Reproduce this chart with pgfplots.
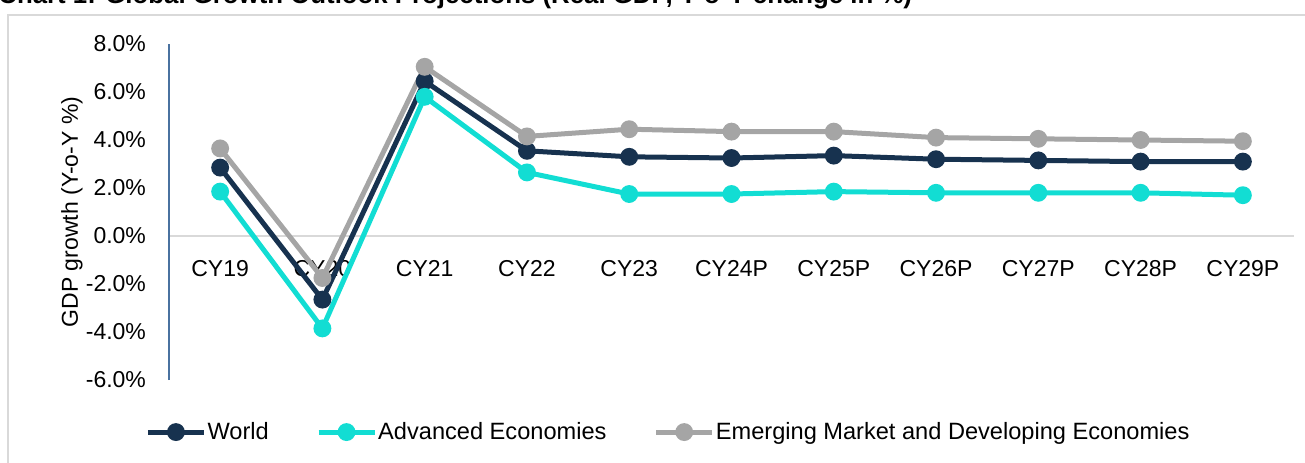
\documentclass[border=0pt]{standalone}
\usepackage{fontspec}
\setmainfont{Liberation Sans}
\usepackage{pgfplots}
\pgfplotsset{compat=1.18}

\definecolor{world}{HTML}{17324F}
\definecolor{adv}{HTML}{12DDD3}
\definecolor{emde}{HTML}{A5A5A5}
\definecolor{yaxis}{HTML}{4A72A0}
\definecolor{zeroline}{HTML}{D9D9D9}
\definecolor{frame}{HTML}{D9D9D9}

\begin{document}
\begin{tikzpicture}
% outer chart frame (runs off the right and bottom edges)
\draw[frame, line width=0.75pt] (-80.5pt,-60pt) rectangle (600pt,182.5pt);
\begin{axis}[
    scale only axis,
    width=562.5pt, height=168pt,
    xmin=-0.5, xmax=10.5, ymin=-6, ymax=8,
    axis x line*=middle, axis y line*=left,
    x axis line style={draw=zeroline, line width=0.9pt, -},
    y axis line style={draw=yaxis, line width=0.9pt, -},
    xtick={0,...,10},
    xticklabels={CY19,CY20,CY21,CY22,CY23,CY24P,CY25P,CY26P,CY27P,CY28P,CY29P},
    ytick={-6,-4,-2,0,2,4,6,8},
    yticklabels={-6.0\%,-4.0\%,-2.0\%,0.0\%,2.0\%,4.0\%,6.0\%,8.0\%},
    major tick length=0pt, tick style={draw=none},
    tick label style={font=\fontsize{11.5}{13}\selectfont},
    xticklabel style={yshift=-8.5pt},
    yticklabel style={xshift=-8pt},
    ylabel={GDP growth (Y-o-Y \%)},
    ylabel style={at={(axis description cs:-0.0862,0.5)}, anchor=center,
        font=\fontsize{11.5}{13}\selectfont},
    legend columns=3,
    legend style={at={(0.4436,-0.155)}, anchor=center, draw=none,
        font=\fontsize{11.8}{13}\selectfont,
        nodes={inner xsep=0.6pt},
        /tikz/every even column/.append style={column sep=23pt}},
    legend image code/.code={\draw[mark repeat=2, mark phase=2, #1]
        plot coordinates {(0pt,0pt) (14pt,0pt) (28pt,0pt)};},
    every axis plot/.append style={line width=2.5pt, mark=*, mark size=3.2pt},
]
\addplot[world, mark options={fill=world}] coordinates {
(0,2.85) (1,-2.65) (2,6.45) (3,3.55) (4,3.3) (5,3.25)
(6,3.35) (7,3.2) (8,3.15) (9,3.1) (10,3.1)
};
\addlegendentry{World}
\addplot[adv, mark options={fill=adv}] coordinates {
(0,1.85) (1,-3.85) (2,5.8) (3,2.65) (4,1.75) (5,1.75)
(6,1.85) (7,1.8) (8,1.8) (9,1.8) (10,1.7)
};
\addlegendentry{Advanced Economies}
\addplot[emde, mark options={fill=emde}] coordinates {
(0,3.65) (1,-1.75) (2,7.05) (3,4.15) (4,4.45) (5,4.35)
(6,4.35) (7,4.1) (8,4.05) (9,4.0) (10,3.95)
};
\addlegendentry{Emerging Market and Developing Economies}
\end{axis}
% title, only its lower part lies inside the page, as in the source
\node[anchor=base west, inner sep=0pt, font=\bfseries\fontsize{12.9}{15}\selectfont]
    at (-85.5pt,188.2pt)
    {Chart 1: Global Growth Outlook Projections (Real GDP, Y-o-Y change in \%)};
\pgfresetboundingbox
\useasboundingbox (-84.5pt,-41pt) rectangle (568pt,190pt);
\end{tikzpicture}
\end{document}
